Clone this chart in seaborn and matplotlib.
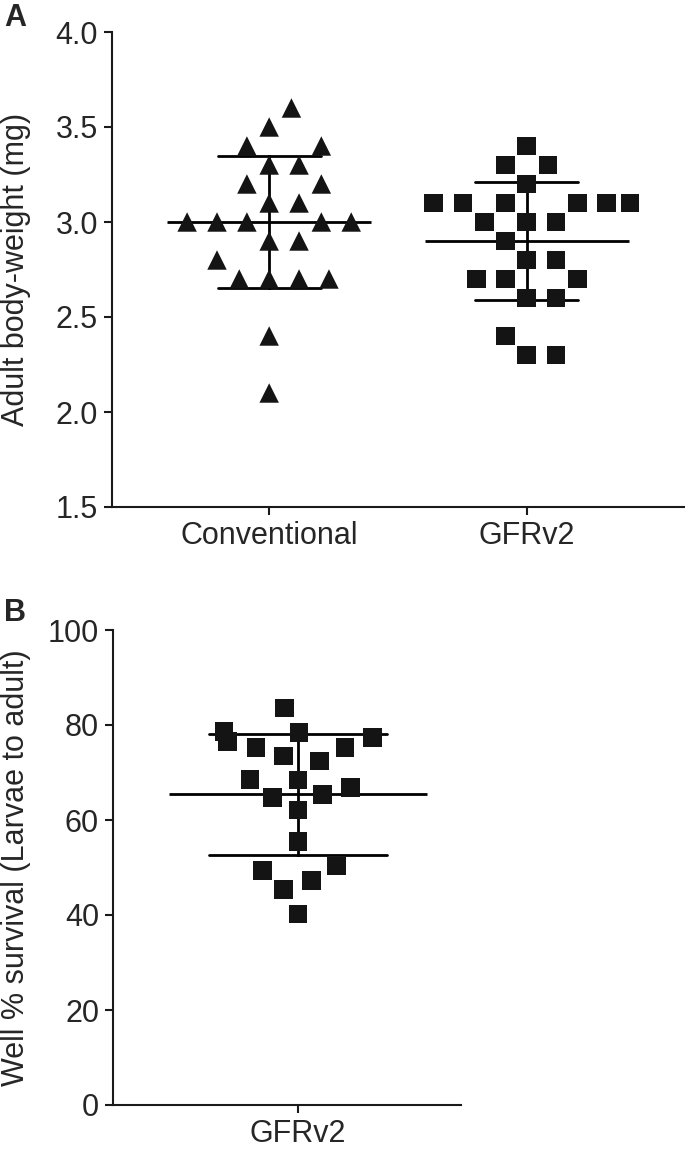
import pandas as pd
import matplotlib
matplotlib.use("Agg")
import matplotlib.pyplot as plt
import seaborn as sns

sns.set_style("ticks")
plt.rcParams["font.family"] = ["Liberation Sans", "DejaVu Sans"]

# %% data
groups = ["Conventional", "GFRv2"]
conventional_wt = [3.6, 3.5, 3.4, 3.4, 3.3, 3.3, 3.2, 3.2, 3.1, 3.1,
                   3.0, 3.0, 3.0, 3.0, 3.0, 2.9, 2.9, 2.8,
                   2.7, 2.7, 2.7, 2.7, 2.4, 2.1]
gfrv2_wt = [3.4, 3.3, 3.3, 3.2, 3.1, 3.1, 3.1, 3.1, 3.1, 3.1,
            3.0, 3.0, 3.0, 2.9, 2.8, 2.8, 2.7, 2.7, 2.7,
            2.6, 2.6, 2.4, 2.3, 2.3]
gfrv2_survival = [83.6, 78.7, 77.3, 78.5, 76.6, 75.2, 75.2, 73.5, 72.4,
                  68.4, 68.6, 66.9, 64.8, 65.3, 62.1, 55.4, 50.3,
                  49.3, 47.2, 45.3, 40.2]

df_a = pd.DataFrame({
    "group": ["Conventional"] * len(conventional_wt) + ["GFRv2"] * len(gfrv2_wt),
    "weight": conventional_wt + gfrv2_wt,
})
df_b = pd.DataFrame({"group": ["GFRv2"] * len(gfrv2_survival),
                     "survival": gfrv2_survival})

FS = 22
LW = 1.5
MK = "#141414"
# invisible marker edge -> wider swarm spacing, like the Prism layout
SWARM = dict(color=MK, linewidth=6.5, edgecolor="none")

fig = plt.figure(figsize=(6.85, 11.62), dpi=100)
ax_a = fig.add_axes([112 / 685, 1 - 507 / 1162, 572 / 685, 475 / 1162])
ax_b = fig.add_axes([113 / 685, 1 - 1105 / 1162, 348 / 685, 475 / 1162])

# %% panel A
sns.swarmplot(data=df_a[df_a.group == "Conventional"], x="group", y="weight",
              order=groups, marker="^", size=14, ax=ax_a, **SWARM)
sns.swarmplot(data=df_a[df_a.group == "GFRv2"], x="group", y="weight",
              order=groups, marker="s", size=13.5, ax=ax_a, **SWARM)
sns.pointplot(data=df_a, x="group", y="weight", order=groups, errorbar="sd",
              capsize=0.4, color="black", linestyle="none", marker="_",
              markersize=147, markeredgewidth=2, err_kws={"linewidth": 2},
              ax=ax_a)
ax_a.set_xlim(-0.61, 1.61)
ax_a.set_ylim(1.5, 4.0)
ax_a.set_yticks([1.5, 2.0, 2.5, 3.0, 3.5, 4.0])
ax_a.set_yticklabels(["1.5", "2.0", "2.5", "3.0", "3.5", "4.0"])
ax_a.set_xlabel("")
ax_a.set_ylabel("Adult body-weight (mg)", fontsize=FS)
ax_a.yaxis.set_label_coords(-0.141, 0.5)

# %% panel B
sns.swarmplot(data=df_b, x="group", y="survival", marker="s", size=13.5,
              ax=ax_b, **SWARM)
sns.pointplot(data=df_b, x="group", y="survival", errorbar="sd",
              capsize=0.96, color="black", linestyle="none", marker="_",
              markersize=186, markeredgewidth=2, err_kws={"linewidth": 2},
              ax=ax_b)
ax_b.set_xlim(-1.0, 0.88)
ax_b.set_ylim(0, 100)
ax_b.set_yticks([0, 20, 40, 60, 80, 100])
ax_b.set_xlabel("")
ax_b.set_ylabel("Well % survival (Larvae to adult)", fontsize=FS)
ax_b.yaxis.set_label_coords(-0.235, 0.5)

for ax in (ax_a, ax_b):
    sns.despine(ax=ax)
    for s in ("left", "bottom"):
        ax.spines[s].set_linewidth(LW)
        ax.spines[s].set_color("#1a1a1a")
    ax.tick_params(axis="both", labelsize=FS, length=6, width=LW,
                   color="#1a1a1a", pad=4)

fig.text(0.006, 0.997, "A", fontsize=22, fontweight="bold", va="top")
fig.text(0.006, 0.485, "B", fontsize=22, fontweight="bold", va="top")

fig.savefig("out.png", dpi=100)
